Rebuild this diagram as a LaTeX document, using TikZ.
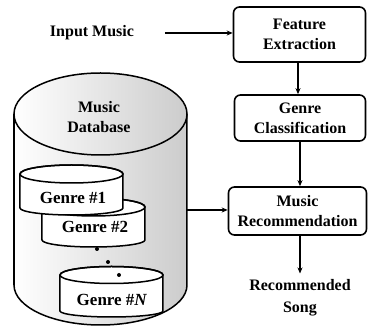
\documentclass[tikz,border=0pt]{standalone}
\usepackage{fontspec}
\setmainfont{Liberation Serif}
\usetikzlibrary{arrows.meta}
\begin{document}
\begin{tikzpicture}[x=1pt,y=1pt,
  lbl/.style={font=\fontsize{16}{20}\selectfont\bfseries, align=center, inner sep=0pt},
  procbox/.style={lbl, draw, line width=1.6pt, rounded corners=6pt},
  conn/.style={line width=1.3pt, -{Stealth[length=6pt,width=5pt]}},
  cyl/.style={draw, line width=1.5pt},
]
\useasboundingbox (0,0) rectangle (368,329);

% process boxes
\node[procbox, minimum width=132pt, minimum height=55pt] (fe) at (299.5,294.5) {Feature\\Extraction};
\node[procbox, minimum width=131pt, minimum height=46pt] (gc) at (300,211) {Genre\\Classification};
\node[procbox, minimum width=138pt, minimum height=48pt] (mr) at (297.5,118) {Music\\Recommendation};
\node[lbl, inner ysep=6pt, font=\fontsize{16}{22}\selectfont\bfseries] (song) at (300,31) {Recommended\\Song};
\node[lbl] (in) at (92,296) {Input Music};
\coordinate (ins) at (165,296);

% big database cylinder
\fill[left color=white, right color=black!20]
  (14,215) -- (14,44) arc[start angle=180,end angle=360,x radius=86.5,y radius=40]
  -- (187,215) arc[start angle=0,end angle=180,x radius=86.5,y radius=41] -- cycle;
\draw[cyl]
  (14,215) -- (14,44) arc[start angle=180,end angle=360,x radius=86.5,y radius=40]
  -- (187,215);
\draw[cyl] (100.5,215) ellipse[x radius=86.5,y radius=41];
\node[lbl] (db) at (99,212) {Music\\Database};
\coordinate (dbr) at (187,119);

% Genre #2
\filldraw[cyl, fill=white] (42,122) -- (42,89) arc[start angle=180,end angle=360,x radius=51.5,y radius=7]
  -- (145,122) arc[start angle=0,end angle=180,x radius=51.5,y radius=9] -- cycle;
\draw[cyl] (93.5,122) ellipse[x radius=51.5,y radius=9];
% Genre #1
\filldraw[cyl, fill=white] (20,155) -- (20,121) arc[start angle=180,end angle=360,x radius=51.5,y radius=7]
  -- (123,155) arc[start angle=0,end angle=180,x radius=51.5,y radius=9] -- cycle;
\draw[cyl] (71.5,155) ellipse[x radius=51.5,y radius=9];
% Genre #N
\filldraw[cyl, fill=white] (60,54) -- (60,18) arc[start angle=180,end angle=360,x radius=51.5,y radius=6]
  -- (163,54) arc[start angle=0,end angle=180,x radius=51.5,y radius=8.5] -- cycle;
\draw[cyl] (111.5,54) ellipse[x radius=51.5,y radius=8.5];

\node[lbl, font=\fontsize{17}{20}\selectfont\bfseries] (g1) at (73,131) {Genre \#1};
\node[lbl, font=\fontsize{17}{20}\selectfont\bfseries] (g2) at (95,102) {Genre \#2};
\node[lbl, font=\fontsize{17}{20}\selectfont\bfseries] (gn) at (112,29) {Genre \#\textit{N}};

% dots
\fill (97,80) circle[radius=2];
\fill (108,67) circle[radius=2];
\fill (119,54) circle[radius=2];

% connectors
\draw[conn] (ins) -- (ins -| fe.west);
\draw[conn] (fe.south -| 298,0) -- (gc.north -| 298,0);
\draw[conn] (gc.south -| 300,0) -- (mr.north -| 300,0);
\draw[conn] (mr.south -| 300,0) -- (song.north -| 300,0);
\draw[conn] (dbr) -- (dbr -| mr.west);
\end{tikzpicture}
\end{document}
